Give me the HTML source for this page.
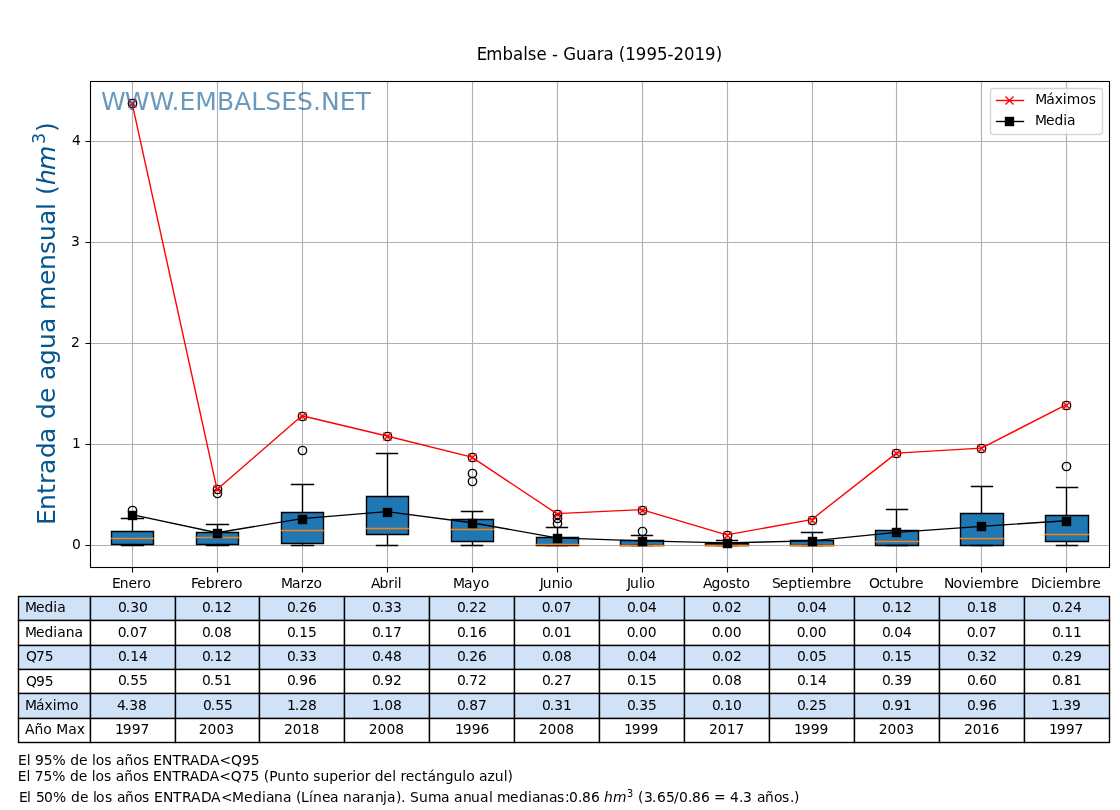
<!DOCTYPE html>
<html lang="es"><head><meta charset="utf-8"><title>Embalse - Guara (1995-2019)</title>
<style>html,body{margin:0;padding:0;background:#fff}svg{display:block}text{font-family:"DejaVu Sans","Liberation Sans",sans-serif}</style></head><body>
<svg width="1120" height="810" viewBox="0 0 1120 810">
<rect width="1120" height="810" fill="#fff"/>
<path d="M132.5 567.0V81.0M217.5 567.0V81.0M302.5 567.0V81.0M387.5 567.0V81.0M472.5 567.0V81.0M557.5 567.0V81.0M642.5 567.0V81.0M727.5 567.0V81.0M812.5 567.0V81.0M896.5 567.0V81.0M981.5 567.0V81.0M1066.5 567.0V81.0M89.6 545.5H1108.8M89.6 444.5H1108.8M89.6 343.5H1108.8M89.6 242.5H1108.8M89.6 141.5H1108.8" stroke="#b0b0b0" stroke-width="1.11" fill="none"/>
<path d="M132.5 567.5v5M217.5 567.5v5M302.5 567.5v5M387.5 567.5v5M472.5 567.5v5M557.5 567.5v5M642.5 567.5v5M727.5 567.5v5M812.5 567.5v5M896.5 567.5v5M981.5 567.5v5M1066.5 567.5v5M90.5 545.5h-5M90.5 444.5h-5M90.5 343.5h-5M90.5 242.5h-5M90.5 141.5h-5" stroke="#000" stroke-width="1.11" fill="none"/>
<path d="M111.5 544.5H153.5V531.5H111.5ZM196.5 544.5H238.5V532.5H196.5ZM281.5 543.5H323.5V512.5H281.5ZM366.5 534.5H408.5V496.5H366.5ZM451.5 541.5H493.5V519.5H451.5ZM536.5 545.5H578.5V537.5H536.5ZM620.5 545.5H663.5V540.5H620.5ZM705.5 545.5H748.5V543.5H705.5ZM790.5 545.5H833.5V540.5H790.5ZM875.5 545.5H918.5V530.5H875.5ZM960.5 545.5H1003.5V513.5H960.5ZM1045.5 541.5H1088.5V515.5H1045.5Z" fill="#1f77b4" stroke="#000" stroke-width="1.39" stroke-linejoin="miter"/>
<path d="M132.5 544.5V545.5M132.5 531.5V518.5M121.5 545.5H143.5M121.5 518.5H143.5M217.5 544.5V545.5M217.5 532.5V524.5M206.5 545.5H228.5M206.5 524.5H228.5M302.5 543.5V545.5M302.5 512.5V484.5M291.5 545.5H313.5M291.5 484.5H313.5M387.5 534.5V545.5M387.5 496.5V453.5M376.5 545.5H397.5M376.5 453.5H397.5M472.5 541.5V545.5M472.5 519.5V511.5M461.5 545.5H482.5M461.5 511.5H482.5M557.5 545.5V545.5M557.5 537.5V527.5M546.5 545.5H567.5M546.5 527.5H567.5M642.5 545.5V545.5M642.5 540.5V535.5M631.5 545.5H652.5M631.5 535.5H652.5M727.5 545.5V545.5M727.5 543.5V540.5M716.5 545.5H737.5M716.5 540.5H737.5M812.5 545.5V545.5M812.5 540.5V532.5M801.5 545.5H822.5M801.5 532.5H822.5M896.5 545.5V545.5M896.5 530.5V509.5M886.5 545.5H907.5M886.5 509.5H907.5M981.5 545.5V545.5M981.5 513.5V486.5M971.5 545.5H992.5M971.5 486.5H992.5M1066.5 541.5V545.5M1066.5 515.5V487.5M1056.5 545.5H1077.5M1056.5 487.5H1077.5" fill="none" stroke="#000" stroke-width="1.39" stroke-linecap="square"/>
<path d="M111.5 538.5H153.5M196.5 537.5H238.5M281.5 530.5H323.5M366.5 528.5H408.5M451.5 529.5H493.5M536.5 544.5H578.5M620.5 545.5H663.5M705.5 545.5H748.5M790.5 545.5H833.5M875.5 541.5H918.5M960.5 538.5H1003.5M1045.5 534.5H1088.5" fill="none" stroke="#ff7f0e" stroke-width="1.39" stroke-linecap="square"/>
<g fill="none" stroke="#000" stroke-width="1.39"><circle cx="132.5" cy="510.5" r="4.17"/><circle cx="132.5" cy="103.5" r="4.17"/><circle cx="217.5" cy="493.5" r="4.17"/><circle cx="217.5" cy="489.5" r="4.17"/><circle cx="302.5" cy="450.5" r="4.17"/><circle cx="302.5" cy="416.5" r="4.17"/><circle cx="387.5" cy="436.5" r="4.17"/><circle cx="472.5" cy="481.5" r="4.17"/><circle cx="472.5" cy="473.5" r="4.17"/><circle cx="472.5" cy="457.5" r="4.17"/><circle cx="557.5" cy="523.5" r="4.17"/><circle cx="557.5" cy="518.5" r="4.17"/><circle cx="557.5" cy="514.5" r="4.17"/><circle cx="642.5" cy="531.5" r="4.17"/><circle cx="642.5" cy="510.5" r="4.17"/><circle cx="727.5" cy="535.5" r="4.17"/><circle cx="812.5" cy="520.5" r="4.17"/><circle cx="896.5" cy="453.5" r="4.17"/><circle cx="981.5" cy="448.5" r="4.17"/><circle cx="1066.5" cy="466.5" r="4.17"/><circle cx="1066.5" cy="405.5" r="4.17"/></g>
<polyline points="132.07,103.09 217.00,489.43 301.93,415.79 386.87,435.97 471.80,457.15 556.73,513.64 641.67,509.60 726.60,534.82 811.53,519.69 896.47,453.12 981.40,448.07 1066.33,404.70" fill="none" stroke="#f00" stroke-width="1.39" stroke-linejoin="round"/>
<path d="M128.50 99.50l8.00 8.00M128.50 107.50l8.00 -8.00M213.50 485.50l8.00 8.00M213.50 493.50l8.00 -8.00M298.50 412.50l8.00 8.00M298.50 420.50l8.00 -8.00M383.50 432.50l8.00 8.00M383.50 440.50l8.00 -8.00M468.50 453.50l8.00 8.00M468.50 461.50l8.00 -8.00M553.50 510.50l8.00 8.00M553.50 518.50l8.00 -8.00M638.50 506.50l8.00 8.00M638.50 514.50l8.00 -8.00M723.50 531.50l8.00 8.00M723.50 539.50l8.00 -8.00M808.50 516.50l8.00 8.00M808.50 524.50l8.00 -8.00M892.50 449.50l8.00 8.00M892.50 457.50l8.00 -8.00M977.50 444.50l8.00 8.00M977.50 452.50l8.00 -8.00M1062.50 401.50l8.00 8.00M1062.50 409.50l8.00 -8.00" fill="none" stroke="#f00" stroke-width="1.39"/>
<polyline points="132.07,514.65 217.00,532.80 301.93,518.68 386.87,511.62 471.80,522.72 556.73,537.85 641.67,540.87 726.60,542.89 811.53,540.87 896.47,532.40 981.40,526.35 1066.33,520.70" fill="none" stroke="#000" stroke-width="1.39" stroke-linejoin="round"/>
<g fill="#000"><rect x="127.80" y="510.80" width="9.40" height="9.40"/><rect x="212.80" y="528.80" width="9.40" height="9.40"/><rect x="297.80" y="514.80" width="9.40" height="9.40"/><rect x="382.80" y="507.80" width="9.40" height="9.40"/><rect x="467.80" y="518.80" width="9.40" height="9.40"/><rect x="552.80" y="533.80" width="9.40" height="9.40"/><rect x="637.80" y="536.80" width="9.40" height="9.40"/><rect x="722.80" y="538.80" width="9.40" height="9.40"/><rect x="807.80" y="536.80" width="9.40" height="9.40"/><rect x="891.80" y="527.80" width="9.40" height="9.40"/><rect x="976.80" y="521.80" width="9.40" height="9.40"/><rect x="1061.80" y="516.80" width="9.40" height="9.40"/></g>
<rect x="90.5" y="81.5" width="1019.0" height="486.0" fill="none" stroke="#000" stroke-width="1.11"/>
<text x="112.00" y="587.70" font-size="13.89">E<tspan dx="-1">nero</tspan></text>
<text x="191.00" y="587.70" font-size="13.89">F<tspan dx="-1">ebrero</tspan></text>
<text x="281.00" y="587.70" font-size="13.89">M<tspan dx="-1">arzo</tspan></text>
<text x="371.00" y="587.70" font-size="13.89">A<tspan dx="-1">bril</tspan></text>
<text x="453.00" y="587.70" font-size="13.89">M<tspan dx="-1">ayo</tspan></text>
<text x="539.75" y="587.70" font-size="13.89">J<tspan dx="-1">unio</tspan></text>
<text x="627.00" y="587.70" font-size="13.89">J<tspan dx="-1">ulio</tspan></text>
<text x="703.00" y="587.70" font-size="13.89">A<tspan dx="-1">gosto</tspan></text>
<text x="772.00" y="587.70" font-size="13.89">S<tspan dx="-1">eptiembre</tspan></text>
<text x="869.00" y="587.70" font-size="13.89">O<tspan dx="-1">ctubre</tspan></text>
<text x="944.00" y="587.70" font-size="13.89">N<tspan dx="-1">oviembre</tspan></text>
<text x="1031.00" y="587.70" font-size="13.89">D<tspan dx="-1">iciembre</tspan></text>
<text x="80.80" y="549.00" text-anchor="end" font-size="13.89">0</text>
<text x="80.80" y="448.00" text-anchor="end" font-size="13.89">1</text>
<text x="79.80" y="347.00" text-anchor="end" font-size="13.89">2</text>
<text x="79.80" y="246.00" text-anchor="end" font-size="13.89">3</text>
<text x="80.80" y="145.00" text-anchor="end" font-size="13.89">4</text>
<text x="476.85" y="60.40" font-size="17.2" textLength="245.3" lengthAdjust="spacingAndGlyphs">E<tspan dx="-1">mbalse - Guara (1995-2019)</tspan></text>
<text transform="translate(54.50 525.00) rotate(-90)" font-size="25" fill="#05558f" xml:space="preserve"><tspan x="0 15 31 41 51 67 82 98 106 122 137 145 160 176 192 207 215 240 255 271 284 300 315 322 330">Entrada de agua mensual (</tspan><tspan x="340 355" font-style="italic">hm</tspan><tspan x="381" font-size="17.50" dy="-10.0">3</tspan><tspan x="393" dy="10.0">)</tspan></text>
<rect x="990.5" y="88.5" width="112" height="46" rx="2.8" ry="2.8" fill="#fff" fill-opacity="0.8" stroke="#ccc" stroke-opacity="0.8" stroke-width="1.39"/>
<path d="M995.8 100.5H1024.2" stroke="#f00" stroke-width="1.39" fill="none"/>
<path d="M1005.50 96.50l8.00 8.00M1005.50 104.50l8.00 -8.00" stroke="#f00" stroke-width="1.39" fill="none"/>
<path d="M995.8 121.5H1024.2" stroke="#000" stroke-width="1.39" fill="none"/>
<rect x="1004.80" y="116.80" width="9.4" height="9.4" fill="#000"/>
<text x="1035.15" y="104.40" font-size="13.89">M<tspan dx="-1">áximos</tspan></text>
<text x="1034.90" y="125.20" font-size="13.89">M<tspan dx="-1">edia</tspan></text>
<g stroke="#000" stroke-width="1.39"><rect x="18.5" y="596.5" width="72.0" height="24.0" fill="#d0e2f7"/><rect x="90.5" y="596.5" width="85.0" height="24.0" fill="#d0e2f7"/><rect x="175.5" y="596.5" width="84.0" height="24.0" fill="#d0e2f7"/><rect x="259.5" y="596.5" width="85.0" height="24.0" fill="#d0e2f7"/><rect x="344.5" y="596.5" width="85.0" height="24.0" fill="#d0e2f7"/><rect x="429.5" y="596.5" width="85.0" height="24.0" fill="#d0e2f7"/><rect x="514.5" y="596.5" width="85.0" height="24.0" fill="#d0e2f7"/><rect x="599.5" y="596.5" width="85.0" height="24.0" fill="#d0e2f7"/><rect x="684.5" y="596.5" width="85.0" height="24.0" fill="#d0e2f7"/><rect x="769.5" y="596.5" width="85.0" height="24.0" fill="#d0e2f7"/><rect x="854.5" y="596.5" width="85.0" height="24.0" fill="#d0e2f7"/><rect x="939.5" y="596.5" width="85.0" height="24.0" fill="#d0e2f7"/><rect x="1024.5" y="596.5" width="85.0" height="24.0" fill="#d0e2f7"/><rect x="18.5" y="620.5" width="72.0" height="25.0" fill="#fff"/><rect x="90.5" y="620.5" width="85.0" height="25.0" fill="#fff"/><rect x="175.5" y="620.5" width="84.0" height="25.0" fill="#fff"/><rect x="259.5" y="620.5" width="85.0" height="25.0" fill="#fff"/><rect x="344.5" y="620.5" width="85.0" height="25.0" fill="#fff"/><rect x="429.5" y="620.5" width="85.0" height="25.0" fill="#fff"/><rect x="514.5" y="620.5" width="85.0" height="25.0" fill="#fff"/><rect x="599.5" y="620.5" width="85.0" height="25.0" fill="#fff"/><rect x="684.5" y="620.5" width="85.0" height="25.0" fill="#fff"/><rect x="769.5" y="620.5" width="85.0" height="25.0" fill="#fff"/><rect x="854.5" y="620.5" width="85.0" height="25.0" fill="#fff"/><rect x="939.5" y="620.5" width="85.0" height="25.0" fill="#fff"/><rect x="1024.5" y="620.5" width="85.0" height="25.0" fill="#fff"/><rect x="18.5" y="645.5" width="72.0" height="24.0" fill="#d0e2f7"/><rect x="90.5" y="645.5" width="85.0" height="24.0" fill="#d0e2f7"/><rect x="175.5" y="645.5" width="84.0" height="24.0" fill="#d0e2f7"/><rect x="259.5" y="645.5" width="85.0" height="24.0" fill="#d0e2f7"/><rect x="344.5" y="645.5" width="85.0" height="24.0" fill="#d0e2f7"/><rect x="429.5" y="645.5" width="85.0" height="24.0" fill="#d0e2f7"/><rect x="514.5" y="645.5" width="85.0" height="24.0" fill="#d0e2f7"/><rect x="599.5" y="645.5" width="85.0" height="24.0" fill="#d0e2f7"/><rect x="684.5" y="645.5" width="85.0" height="24.0" fill="#d0e2f7"/><rect x="769.5" y="645.5" width="85.0" height="24.0" fill="#d0e2f7"/><rect x="854.5" y="645.5" width="85.0" height="24.0" fill="#d0e2f7"/><rect x="939.5" y="645.5" width="85.0" height="24.0" fill="#d0e2f7"/><rect x="1024.5" y="645.5" width="85.0" height="24.0" fill="#d0e2f7"/><rect x="18.5" y="669.5" width="72.0" height="24.0" fill="#fff"/><rect x="90.5" y="669.5" width="85.0" height="24.0" fill="#fff"/><rect x="175.5" y="669.5" width="84.0" height="24.0" fill="#fff"/><rect x="259.5" y="669.5" width="85.0" height="24.0" fill="#fff"/><rect x="344.5" y="669.5" width="85.0" height="24.0" fill="#fff"/><rect x="429.5" y="669.5" width="85.0" height="24.0" fill="#fff"/><rect x="514.5" y="669.5" width="85.0" height="24.0" fill="#fff"/><rect x="599.5" y="669.5" width="85.0" height="24.0" fill="#fff"/><rect x="684.5" y="669.5" width="85.0" height="24.0" fill="#fff"/><rect x="769.5" y="669.5" width="85.0" height="24.0" fill="#fff"/><rect x="854.5" y="669.5" width="85.0" height="24.0" fill="#fff"/><rect x="939.5" y="669.5" width="85.0" height="24.0" fill="#fff"/><rect x="1024.5" y="669.5" width="85.0" height="24.0" fill="#fff"/><rect x="18.5" y="693.5" width="72.0" height="25.0" fill="#d0e2f7"/><rect x="90.5" y="693.5" width="85.0" height="25.0" fill="#d0e2f7"/><rect x="175.5" y="693.5" width="84.0" height="25.0" fill="#d0e2f7"/><rect x="259.5" y="693.5" width="85.0" height="25.0" fill="#d0e2f7"/><rect x="344.5" y="693.5" width="85.0" height="25.0" fill="#d0e2f7"/><rect x="429.5" y="693.5" width="85.0" height="25.0" fill="#d0e2f7"/><rect x="514.5" y="693.5" width="85.0" height="25.0" fill="#d0e2f7"/><rect x="599.5" y="693.5" width="85.0" height="25.0" fill="#d0e2f7"/><rect x="684.5" y="693.5" width="85.0" height="25.0" fill="#d0e2f7"/><rect x="769.5" y="693.5" width="85.0" height="25.0" fill="#d0e2f7"/><rect x="854.5" y="693.5" width="85.0" height="25.0" fill="#d0e2f7"/><rect x="939.5" y="693.5" width="85.0" height="25.0" fill="#d0e2f7"/><rect x="1024.5" y="693.5" width="85.0" height="25.0" fill="#d0e2f7"/><rect x="18.5" y="718.5" width="72.0" height="24.0" fill="#fff"/><rect x="90.5" y="718.5" width="85.0" height="24.0" fill="#fff"/><rect x="175.5" y="718.5" width="84.0" height="24.0" fill="#fff"/><rect x="259.5" y="718.5" width="85.0" height="24.0" fill="#fff"/><rect x="344.5" y="718.5" width="85.0" height="24.0" fill="#fff"/><rect x="429.5" y="718.5" width="85.0" height="24.0" fill="#fff"/><rect x="514.5" y="718.5" width="85.0" height="24.0" fill="#fff"/><rect x="599.5" y="718.5" width="85.0" height="24.0" fill="#fff"/><rect x="684.5" y="718.5" width="85.0" height="24.0" fill="#fff"/><rect x="769.5" y="718.5" width="85.0" height="24.0" fill="#fff"/><rect x="854.5" y="718.5" width="85.0" height="24.0" fill="#fff"/><rect x="939.5" y="718.5" width="85.0" height="24.0" fill="#fff"/><rect x="1024.5" y="718.5" width="85.0" height="24.0" fill="#fff"/></g>
<text x="25.00" y="612.36" font-size="13.89">M<tspan dx="-1">edia</tspan></text>
<text x="118.00" y="612.36" font-size="13.89">0<tspan dx="-1">.30</tspan></text>
<text x="202.00" y="612.36" font-size="13.89">0<tspan dx="-1">.12</tspan></text>
<text x="287.00" y="612.36" font-size="13.89">0<tspan dx="-1">.26</tspan></text>
<text x="372.00" y="612.36" font-size="13.89">0<tspan dx="-1">.33</tspan></text>
<text x="457.00" y="612.36" font-size="13.89">0<tspan dx="-1">.22</tspan></text>
<text x="541.75" y="612.36" font-size="13.89">0<tspan dx="-1">.07</tspan></text>
<text x="627.00" y="612.36" font-size="13.89">0<tspan dx="-1">.04</tspan></text>
<text x="712.00" y="612.36" font-size="13.89">0<tspan dx="-1">.02</tspan></text>
<text x="797.00" y="612.36" font-size="13.89">0<tspan dx="-1">.04</tspan></text>
<text x="882.00" y="612.36" font-size="13.89">0<tspan dx="-1">.12</tspan></text>
<text x="967.00" y="612.36" font-size="13.89">0<tspan dx="-1">.18</tspan></text>
<text x="1052.00" y="612.36" font-size="13.89">0<tspan dx="-1">.24</tspan></text>
<text x="25.00" y="636.66" font-size="13.89">M<tspan dx="-1">ediana</tspan></text>
<text x="117.75" y="636.66" font-size="13.89">0<tspan dx="-1">.07</tspan></text>
<text x="202.00" y="636.66" font-size="13.89">0<tspan dx="-1">.08</tspan></text>
<text x="287.00" y="636.66" font-size="13.89">0<tspan dx="-1">.15</tspan></text>
<text x="372.00" y="636.66" font-size="13.89">0<tspan dx="-1">.17</tspan></text>
<text x="457.00" y="636.66" font-size="13.89">0<tspan dx="-1">.16</tspan></text>
<text x="542.00" y="636.66" font-size="13.89">0<tspan dx="-1">.01</tspan></text>
<text x="626.75" y="636.66" font-size="13.89">0<tspan dx="-1">.00</tspan></text>
<text x="711.75" y="636.66" font-size="13.89">0<tspan dx="-1">.00</tspan></text>
<text x="796.75" y="636.66" font-size="13.89">0<tspan dx="-1">.00</tspan></text>
<text x="882.00" y="636.66" font-size="13.89">0<tspan dx="-1">.04</tspan></text>
<text x="966.75" y="636.66" font-size="13.89">0<tspan dx="-1">.07</tspan></text>
<text x="1052.00" y="636.66" font-size="13.89">0<tspan dx="-1">.11</tspan></text>
<text x="26.00" y="660.96" font-size="13.89">Q<tspan dx="-1">75</tspan></text>
<text x="118.00" y="660.96" font-size="13.89">0<tspan dx="-1">.14</tspan></text>
<text x="202.00" y="660.96" font-size="13.89">0<tspan dx="-1">.12</tspan></text>
<text x="287.00" y="660.96" font-size="13.89">0<tspan dx="-1">.33</tspan></text>
<text x="372.00" y="660.96" font-size="13.89">0<tspan dx="-1">.48</tspan></text>
<text x="457.00" y="660.96" font-size="13.89">0<tspan dx="-1">.26</tspan></text>
<text x="542.00" y="660.96" font-size="13.89">0<tspan dx="-1">.08</tspan></text>
<text x="627.00" y="660.96" font-size="13.89">0<tspan dx="-1">.04</tspan></text>
<text x="712.00" y="660.96" font-size="13.89">0<tspan dx="-1">.02</tspan></text>
<text x="797.00" y="660.96" font-size="13.89">0<tspan dx="-1">.05</tspan></text>
<text x="882.00" y="660.96" font-size="13.89">0<tspan dx="-1">.15</tspan></text>
<text x="967.00" y="660.96" font-size="13.89">0<tspan dx="-1">.32</tspan></text>
<text x="1052.00" y="660.96" font-size="13.89">0<tspan dx="-1">.29</tspan></text>
<text x="26.00" y="686.26" font-size="13.89">Q<tspan dx="-1">95</tspan></text>
<text x="118.00" y="685.26" font-size="13.89">0<tspan dx="-1">.55</tspan></text>
<text x="202.00" y="685.26" font-size="13.89">0<tspan dx="-1">.51</tspan></text>
<text x="287.00" y="685.26" font-size="13.89">0<tspan dx="-1">.96</tspan></text>
<text x="372.00" y="685.26" font-size="13.89">0<tspan dx="-1">.92</tspan></text>
<text x="457.00" y="685.26" font-size="13.89">0<tspan dx="-1">.72</tspan></text>
<text x="542.00" y="685.26" font-size="13.89">0<tspan dx="-1">.27</tspan></text>
<text x="627.00" y="685.26" font-size="13.89">0<tspan dx="-1">.15</tspan></text>
<text x="712.00" y="685.26" font-size="13.89">0<tspan dx="-1">.08</tspan></text>
<text x="797.00" y="685.26" font-size="13.89">0<tspan dx="-1">.14</tspan></text>
<text x="882.00" y="685.26" font-size="13.89">0<tspan dx="-1">.39</tspan></text>
<text x="967.00" y="685.26" font-size="13.89">0<tspan dx="-1">.60</tspan></text>
<text x="1052.00" y="685.26" font-size="13.89">0<tspan dx="-1">.81</tspan></text>
<text x="25.00" y="709.56" font-size="13.89">M<tspan dx="-1">áximo</tspan></text>
<text x="117.00" y="709.56" font-size="13.89">4<tspan dx="-1">.38</tspan></text>
<text x="203.00" y="709.56" font-size="13.89">0<tspan dx="-1">.55</tspan></text>
<text x="287.00" y="709.56" font-size="13.89">1<tspan dx="-1">.28</tspan></text>
<text x="372.00" y="709.56" font-size="13.89">1<tspan dx="-1">.08</tspan></text>
<text x="457.00" y="709.56" font-size="13.89">0<tspan dx="-1">.87</tspan></text>
<text x="542.00" y="709.56" font-size="13.89">0<tspan dx="-1">.31</tspan></text>
<text x="627.00" y="709.56" font-size="13.89">0<tspan dx="-1">.35</tspan></text>
<text x="712.00" y="709.56" font-size="13.89">0<tspan dx="-1">.10</tspan></text>
<text x="797.00" y="709.56" font-size="13.89">0<tspan dx="-1">.25</tspan></text>
<text x="882.00" y="709.56" font-size="13.89">0<tspan dx="-1">.91</tspan></text>
<text x="967.00" y="709.56" font-size="13.89">0<tspan dx="-1">.96</tspan></text>
<text x="1051.00" y="709.56" font-size="13.89">1<tspan dx="-1">.39</tspan></text>
<text x="25.00" y="733.86" font-size="13.89">Año Max</text>
<text x="115.00" y="733.86" font-size="13.89">1<tspan dx="-1">997</tspan></text>
<text x="198.75" y="733.86" font-size="13.89">2003</text>
<text x="284.00" y="733.86" font-size="13.89">2018</text>
<text x="368.75" y="733.86" font-size="13.89">2008</text>
<text x="455.00" y="733.86" font-size="13.89">1<tspan dx="-1">996</tspan></text>
<text x="538.75" y="733.86" font-size="13.89">2008</text>
<text x="624.00" y="733.86" font-size="13.89">1<tspan dx="-1">999</tspan></text>
<text x="709.00" y="733.86" font-size="13.89">2017</text>
<text x="794.00" y="733.86" font-size="13.89">1<tspan dx="-1">999</tspan></text>
<text x="878.75" y="733.86" font-size="13.89">2003</text>
<text x="964.00" y="733.86" font-size="13.89">2016</text>
<text x="1049.00" y="733.86" font-size="13.89">1<tspan dx="-1">997</tspan></text>
<text x="17.90" y="765.00" font-size="13.89">El 95% de los años ENTRADA&lt;Q95</text>
<text x="17.65" y="780.80" font-size="13.89">El 75% de los años ENTRADA&lt;Q75 (Punto superior del rectángulo azul)</text>
<text transform="translate(19.00 801.50)" font-size="13.89" xml:space="preserve"><tspan x="0 8 12 17 25 34 47 52 61 69 74 77 86 93 98 106 115 123 131 135 144 154 163 172 182 192 202 213 225 234 243 247 255 264 272 277 282 290 294 303 311 320 324 333 341 347 356 364 368 377 382 387 391 400 409 422 431 435 444 452 461 470 473 478 491 500 509 513 521 530 538 546 550 559 563 572 581">El 50% de los años ENTRADA&lt;Mediana (Línea naranja). Suma anual medianas:0.86 </tspan><tspan x="585 594" font-style="italic">hm</tspan><tspan x="608" font-size="9.72" dy="-5.0">3</tspan><tspan x="615 619 625 633 638 647 655 660 669 673 682 691 695 707 711 720 724 733 738 746 755 763 771 775" dy="5.0"> (3.65/0.86 = 4.3 años.)</tspan></text>
<text x="101.00" y="109.85" font-size="25" fill="#05558f" fill-opacity="0.6" textLength="269.9">W<tspan dx="-1">WW.EMBALSES.NET</tspan></text>
</svg></body></html>
